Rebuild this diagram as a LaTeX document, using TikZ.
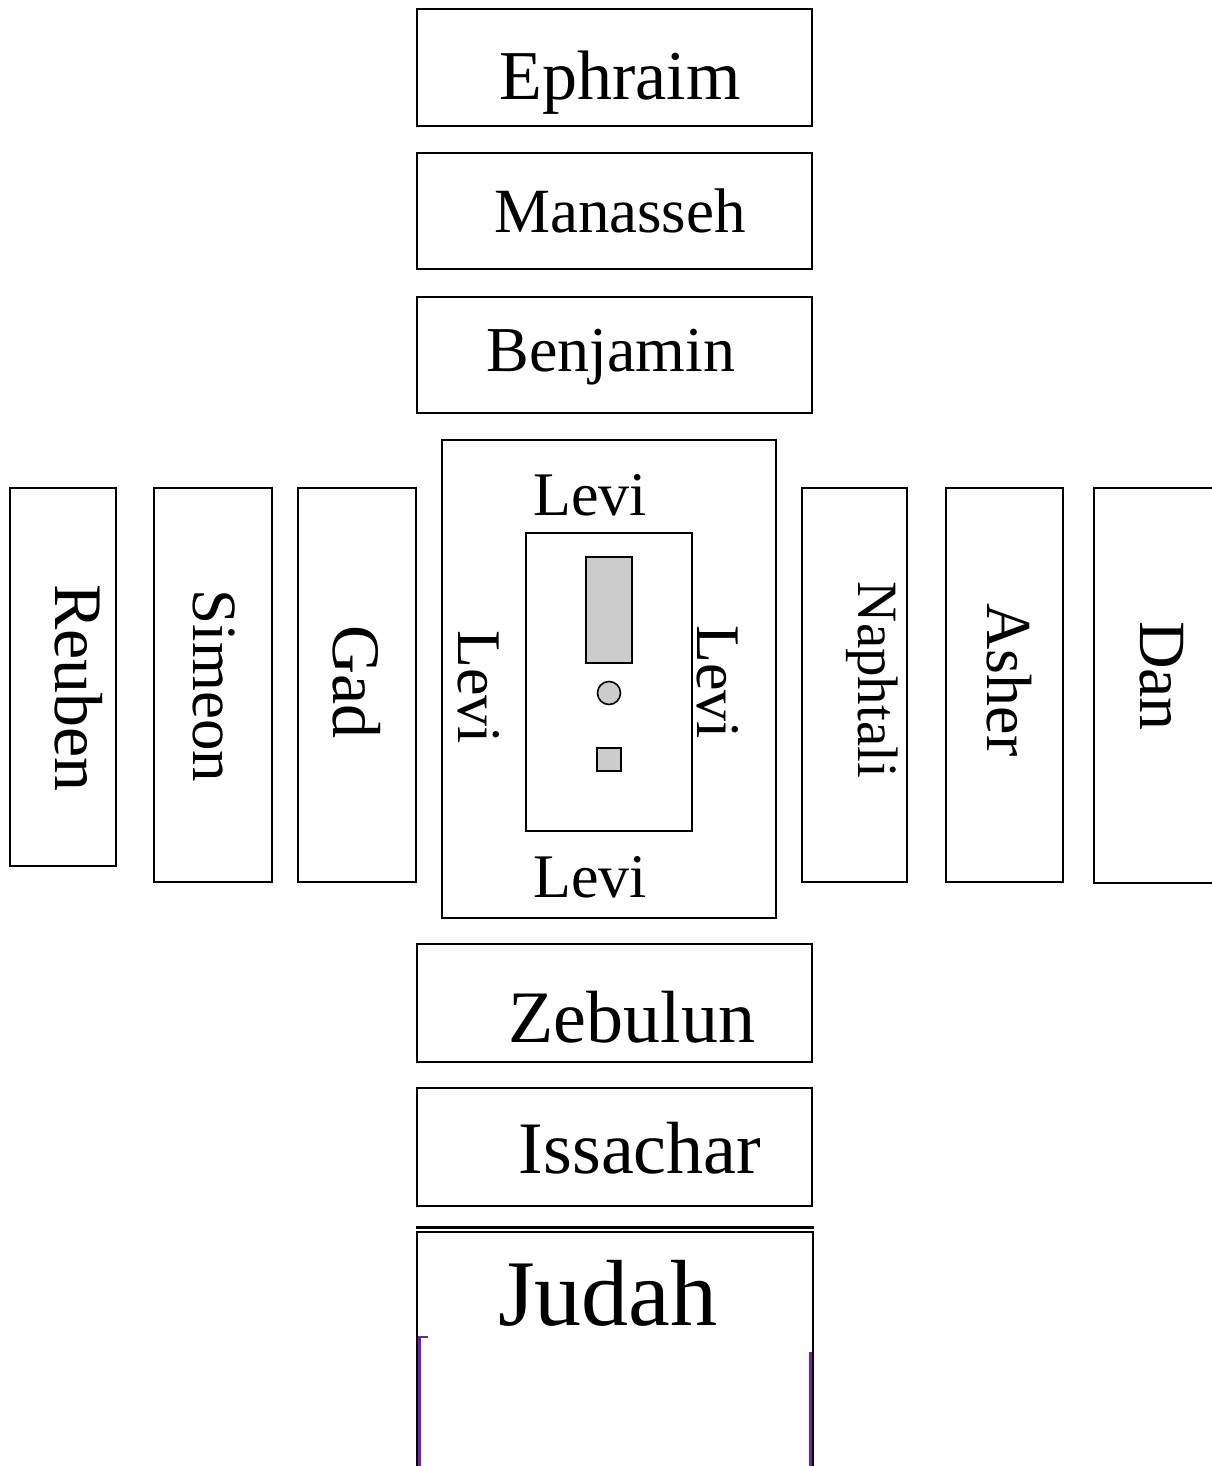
\documentclass[tikz,border=0pt]{standalone}
\usepackage{fontspec}
\setmainfont{Liberation Serif}
\definecolor{purp}{RGB}{112,32,170}
\definecolor{tabgray}{RGB}{204,204,204}
\newcommand\tribefs[1]{\fontsize{#1}{#1}\selectfont}
\begin{document}
\begin{tikzpicture}[x=1pt,y=-1pt,
  box/.style={draw=black, line width=2.2pt},
  furn/.style={draw=black, line width=1.6pt, fill=tabgray},
  lbl/.style={anchor=base, inner sep=0pt}]
\path[use as bounding box, fill=white] (0,0) rectangle (1211,1466);
% north
\draw[box] (417,9) rectangle (812,126);
\node[lbl] (eph) at (620,100) {\tribefs{70}Ephraim};
\draw[box] (417,153) rectangle (812,269);
\node[lbl] (man) at (620,233) {\tribefs{63}Manasseh};
\draw[box] (417,297) rectangle (812,413);
\node[lbl] (ben) at (611,371) {\tribefs{64}Benjamin};
% centre: Levi
\draw[box] (442,440) rectangle (776,918);
\draw[box] (526,533) rectangle (692,831);
\draw[furn] (586,557) rectangle (632,663);
\draw[furn] (609,693) circle (11.5);
\draw[furn] (597,748) rectangle (621,771);
\node[lbl] (levN) at (590,515) {\tribefs{62}Levi};
\node[lbl] (levS) at (590,897) {\tribefs{62}Levi};
\node[lbl, rotate=-90] (levW) at (458,687) {\tribefs{62}Levi};
\node[lbl, rotate=-90] (levE) at (697,682) {\tribefs{62}Levi};
% west
\draw[box] (10,488) rectangle (116,866);
\node[lbl, rotate=-90] (reu) at (55,688) {\tribefs{68}Reuben};
\draw[box] (154,488) rectangle (272,882);
\node[lbl, rotate=-90] (sim) at (193,686) {\tribefs{63}Simeon};
\draw[box] (298,488) rectangle (416,882);
\node[lbl, rotate=-90] (gad) at (333,682) {\tribefs{68}Gad};
% east
\draw[box] (802,488) rectangle (907,882);
\node[lbl, rotate=-90] (nap) at (858,680) {\tribefs{57}Naphtali};
\draw[box] (946,488) rectangle (1063,882);
\node[lbl, rotate=-90] (ash) at (987,680) {\tribefs{64}Asher};
\draw[box] (1230,488) -- (1094,488) -- (1094,883) -- (1230,883);
\node[lbl, rotate=-90] (dan) at (1140,676) {\tribefs{66}Dan};
% south
\draw[box] (417,944) rectangle (812,1062);
\node[lbl] (zeb) at (632,1042) {\tribefs{74}Zebulun};
\draw[box] (417,1088) rectangle (812,1206);
\node[lbl] (iss) at (640,1173) {\tribefs{74}Issachar};
\draw[line width=3pt] (416,1227) -- (814,1227);
\draw[box] (417,1480) -- (417,1232) -- (813,1232) -- (813,1480);
\draw[purp, line width=2.5pt] (428,1337) -- (419.5,1337) -- (419.5,1480);
\draw[purp, line width=2.5pt] (810.5,1352) -- (810.5,1480);
\node[lbl] (jud) at (608,1325) {\tribefs{94}Judah};
\end{tikzpicture}
\end{document}
